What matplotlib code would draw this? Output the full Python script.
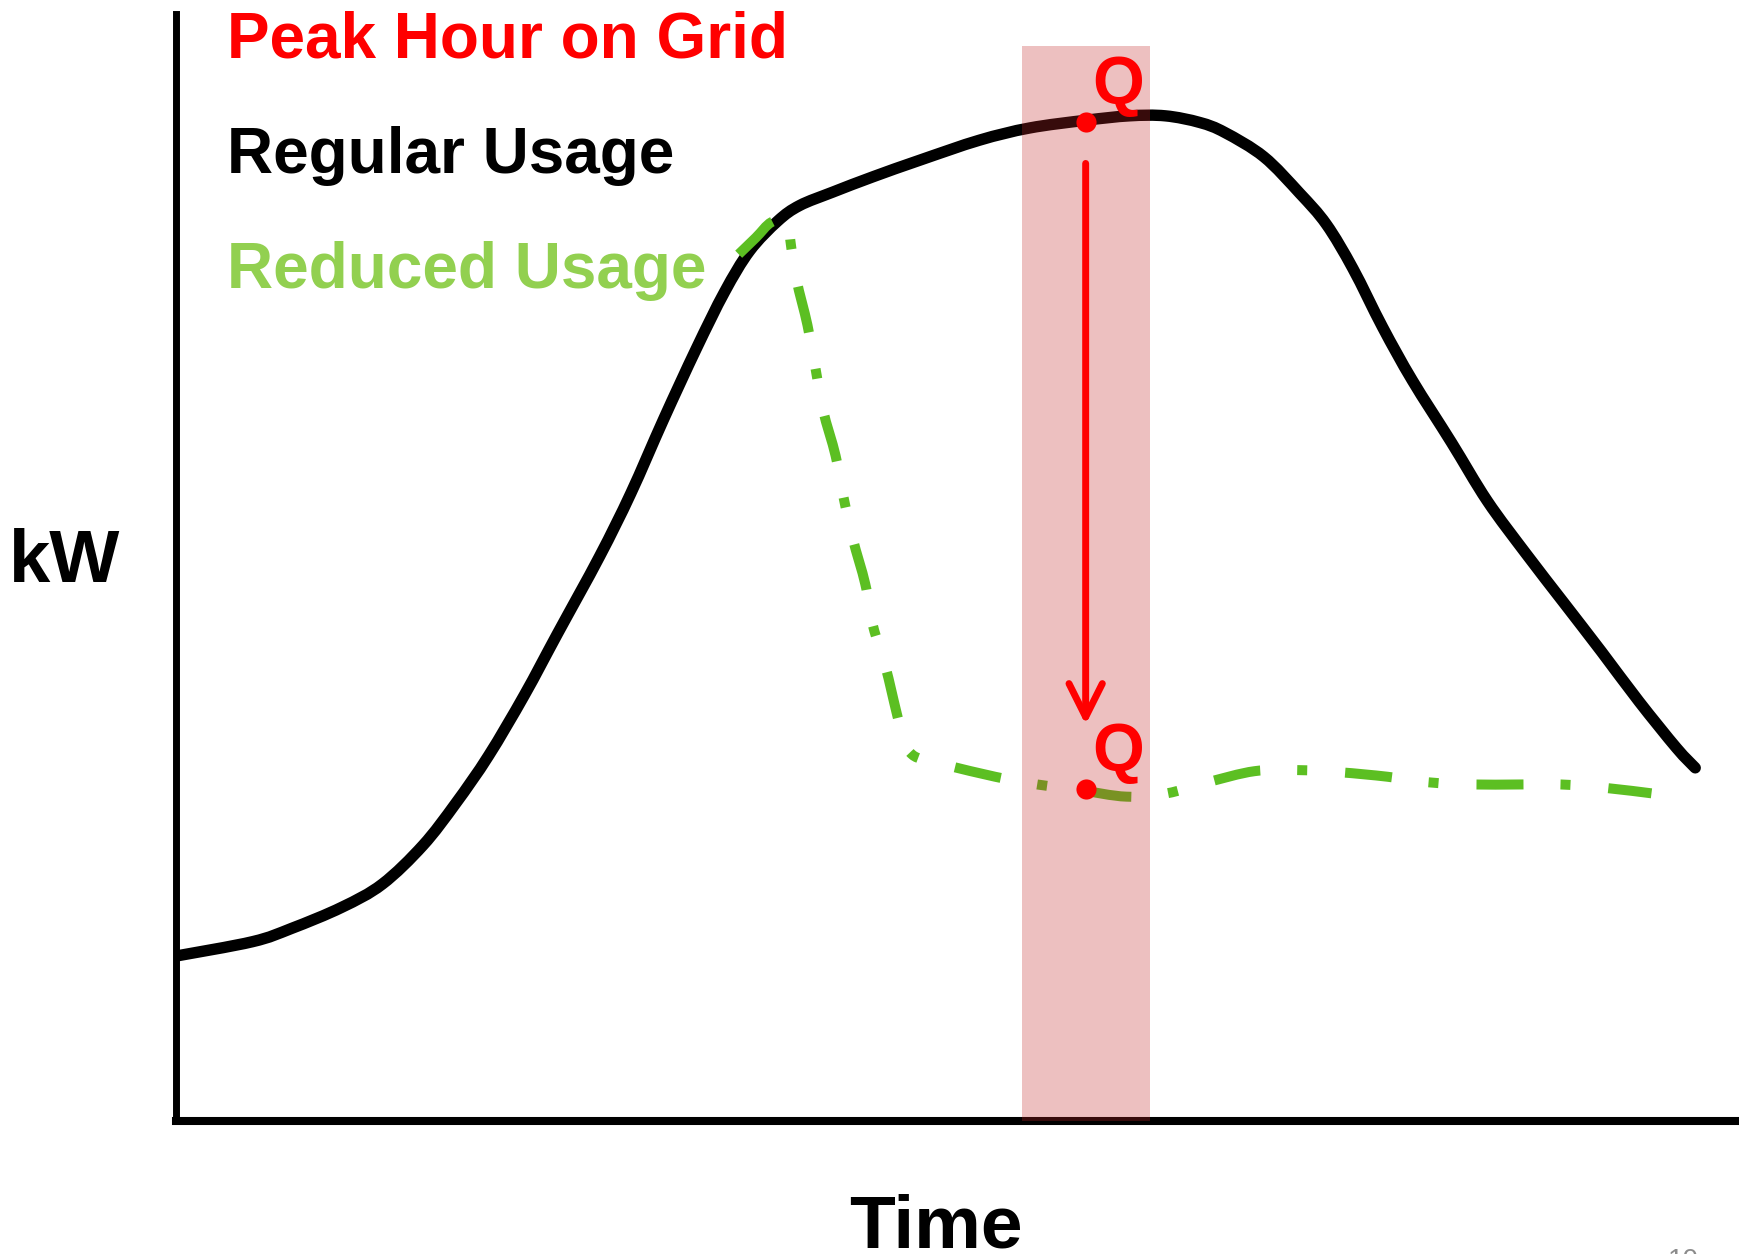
import matplotlib.pyplot as plt
import numpy as np
from matplotlib.path import Path
from matplotlib.patches import PathPatch

plt.rcParams['font.family'] = ['Liberation Sans', 'DejaVu Sans']
plt.rcParams['font.weight'] = 'bold'

W, H = 1739, 1254

# Regular usage curve (time, kW)
REG_T = [0.00, 0.49, 0.74, 1.06, 1.32, 1.58, 1.79, 2.00, 2.23, 2.44, 2.71, 2.91,
         3.12, 3.33, 3.51, 3.67, 3.85, 3.99, 4.20, 4.46, 4.76, 5.14, 5.46, 5.82,
         6.10, 6.33, 6.55, 6.71, 6.96, 7.19, 7.36, 7.53, 7.72, 7.91, 8.16, 8.39,
         8.64, 8.88, 9.12, 9.36, 9.60, 9.72]
REG_KW = [1.49, 1.62, 1.74, 1.93, 2.14, 2.49, 2.87, 3.30, 3.85, 4.40, 5.10, 5.67,
          6.34, 6.98, 7.49, 7.86, 8.13, 8.27, 8.39, 8.53, 8.68, 8.86, 8.97, 9.04,
          9.08, 9.08, 9.02, 8.93, 8.71, 8.38, 8.10, 7.70, 7.17, 6.69, 6.13, 5.60,
          5.12, 4.68, 4.24, 3.79, 3.37, 3.19]

# Reduced usage curve
RED_T = [3.60, 3.71, 3.81, 3.92, 3.93, 3.97, 4.04, 4.09, 4.14, 4.22, 4.27, 4.33,
         4.41, 4.46, 4.54, 4.61, 4.66, 4.71, 4.79, 4.94, 5.24, 5.51, 5.78, 6.08,
         6.34, 6.60, 6.90, 7.17, 7.45, 7.75, 8.01, 8.29, 8.59, 8.86, 9.14, 9.44]
RED_KW = [7.83, 7.98, 8.12, 8.14, 7.96, 7.60, 7.19, 6.81, 6.42, 6.01, 5.64, 5.26,
          4.85, 4.47, 4.10, 3.69, 3.42, 3.31, 3.26, 3.21, 3.11, 3.04, 2.99, 2.93,
          2.96, 3.06, 3.16, 3.17, 3.15, 3.11, 3.06, 3.04, 3.04, 3.04, 3.01, 2.96]

PEAK_START, PEAK_END, PEAK_TOP = 5.41, 6.23, 9.71
Q_T = 5.82
Q_HIGH, Q_LOW = 9.02, 3.00
ARROW_FROM, ARROW_TO = 8.65, 3.58

BLACK = '#000000'
GREEN = '#5CBF22'
LABEL_GREEN = '#92D050'
RED = '#FF0000'
BAND = '#C12626'


def smooth_path(xs, ys):
    # Catmull-Rom through the read points, drawn as cubic Bezier segments
    pts = np.column_stack([xs, ys])
    verts = [pts[0]]
    codes = [Path.MOVETO]
    n = len(pts)
    for i in range(n - 1):
        p0 = pts[max(i - 1, 0)]
        p1 = pts[i]
        p2 = pts[i + 1]
        p3 = pts[min(i + 2, n - 1)]
        verts += [p1 + (p2 - p0) / 6, p2 - (p3 - p1) / 6, p2]
        codes += [Path.CURVE4] * 3
    return Path(verts, codes)


fig = plt.figure(figsize=(W / 100, H / 100), dpi=100)
ax = fig.add_axes([176 / W, 133 / H, 1563 / W, 1107 / H])
ax.set_xlim(0, 10)
ax.set_ylim(0, 10)
ax.set_xticks([])
ax.set_yticks([])
for side in ['top', 'right']:
    ax.spines[side].set_visible(False)
ax.spines['left'].set_linewidth(5)
ax.spines['bottom'].set_linewidth(5.8)

ax.add_patch(PathPatch(smooth_path(REG_T, REG_KW), fill=False, edgecolor=BLACK,
                       lw=8.2, capstyle='round', joinstyle='round', zorder=2))
ax.add_patch(PathPatch(smooth_path(RED_T, RED_KW), fill=False, edgecolor=GREEN,
                       lw=7.2, linestyle=(0, (4.7, 3.7, 1.0, 3.8)),
                       capstyle='butt', zorder=2.2))

ax.axvspan(PEAK_START, PEAK_END, ymin=0, ymax=PEAK_TOP / 10, color=BAND,
           alpha=0.29, lw=0, zorder=3)

ax.annotate('', xy=(Q_T, ARROW_TO), xytext=(Q_T, ARROW_FROM),
            arrowprops=dict(arrowstyle='->,head_length=1.2,head_width=0.6',
                            color=RED, lw=5, shrinkA=0, shrinkB=0,
                            mutation_scale=20, capstyle='round'),
            zorder=4)
ax.plot([Q_T, Q_T], [Q_HIGH, Q_LOW], 'o', color=RED, ms=14.5, mew=0, zorder=5)
ax.text(Q_T + 0.04, 9.20, 'Q', color=RED, fontsize=48, ha='left',
        va='baseline', zorder=5)
ax.text(Q_T + 0.04, 3.17, 'Q', color=RED, fontsize=48, ha='left',
        va='baseline', zorder=5)

# legend-like labels and axis titles
fig.text(227 / W, 1 - 57 / H, 'Peak Hour on Grid', color=RED, fontsize=46,
         va='baseline')
fig.text(227 / W, 1 - 173 / H, 'Regular Usage', color=BLACK, fontsize=46,
         va='baseline')
fig.text(227 / W, 1 - 288 / H, 'Reduced Usage', color=LABEL_GREEN, fontsize=46,
         va='baseline')
fig.text(9 / W, 1 - 582 / H, 'kW', color=BLACK, fontsize=53.5, va='baseline')
fig.text(849 / W, 1 - 1248 / H, 'Time', color=BLACK, fontsize=54,
         va='baseline')
fig.text(1668 / W, 1 - 1268 / H, '10', color='#8C8C8C', fontsize=20,
         fontweight='normal', va='baseline')

plt.savefig('out.png', dpi=100)
